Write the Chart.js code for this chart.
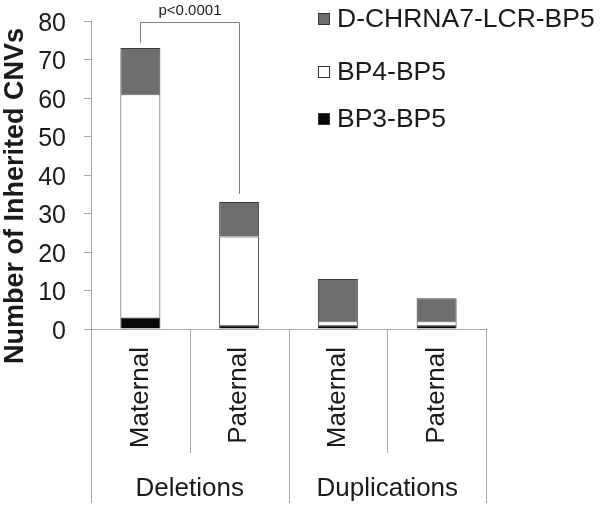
<!DOCTYPE html>
<html>
<head>
<meta charset="utf-8">
<script src="https://cdn.jsdelivr.net/npm/chart.js@4"></script>
<style>
html,body{margin:0;padding:0;background:#fff;}
#wrap{width:600px;height:509px;position:relative;}
</style>
</head>
<body>
<div id="wrap"><canvas id="c" width="600" height="509"></canvas></div>
<script>
const categories = ['Maternal', 'Paternal', 'Maternal', 'Paternal'];
const groups = ['Deletions', 'Duplications'];
const bp3bp5 = [3, 1, 1, 1];
const bp4bp5 = [58, 23, 1, 1];
const dchrna7 = [12, 9, 11, 6];
const yTicks = [0, 10, 20, 30, 40, 50, 60, 70, 80];
const pLabel = 'p<0.0001';
const yTitle = 'Number of Inherited CNVs';

const FONT = "'Liberation Sans', Arial, sans-serif";
const TXT = '#1a1a1a';
const AXIS = '#a8a8a8';

const overlay = {
  id: 'overlay',
  afterDraw(chart) {
    const ctx = chart.ctx;
    const x = chart.scales.x, y = chart.scales.y;
    const area = chart.chartArea;
    const half = (x.getPixelForValue(1) - x.getPixelForValue(0)) / 2;
    ctx.save();
    // y title
    ctx.save();
    ctx.translate(23, 196);
    ctx.rotate(-Math.PI / 2);
    ctx.fillStyle = TXT;
    ctx.font = 'bold 27px ' + FONT;
    ctx.textAlign = 'center';
    ctx.textBaseline = 'alphabetic';
    ctx.fillText(yTitle, 0, 0);
    ctx.restore();
    // category dividers below axis
    ctx.strokeStyle = AXIS;
    ctx.lineWidth = 1;
    const base = area.bottom;
    for (let i = 0; i <= categories.length; i++) {
      const px = Math.round((i < categories.length ? x.getPixelForValue(i) - half : x.getPixelForValue(i - 1) + half)) + 0.5;
      const long = (i % 2 === 0);
      ctx.beginPath();
      ctx.moveTo(px, base);
      ctx.lineTo(px, long ? 503 : 453);
      ctx.stroke();
    }
    // group labels
    ctx.fillStyle = TXT;
    ctx.font = '26px ' + FONT;
    ctx.textAlign = 'center';
    ctx.textBaseline = 'middle';
    groups.forEach((g, gi) => {
      const cx = (x.getPixelForValue(gi * 2) + x.getPixelForValue(gi * 2 + 1)) / 2;
      ctx.fillText(g, cx, 489);
    });
    // significance bracket
    const x1 = Math.round(x.getPixelForValue(0)) + 0.5;
    const x2 = Math.round(x.getPixelForValue(1)) + 0.5;
    const t1 = bp3bp5[0] + bp4bp5[0] + dchrna7[0];
    const t2 = bp3bp5[1] + bp4bp5[1] + dchrna7[1];
    const topY = Math.round(y.getPixelForValue(80)) + 1.5;
    ctx.strokeStyle = '#808080';
    ctx.beginPath();
    ctx.moveTo(x1, y.getPixelForValue(t1) - 5);
    ctx.lineTo(x1, topY);
    ctx.lineTo(x2, topY);
    ctx.lineTo(x2, y.getPixelForValue(t2) - 8);
    ctx.stroke();
    ctx.font = '15px ' + FONT;
    ctx.fillStyle = TXT;
    ctx.fillText(pLabel, (x1 + x2) / 2, 11);
    // legend
    const order = [2, 1, 0];
    const rows = [19, 72, 119];
    ctx.textAlign = 'left';
    ctx.font = '26.5px ' + FONT;
    order.forEach((di, r) => {
      const ds = chart.data.datasets[di];
      const cy = rows[r];
      ctx.fillStyle = ds.backgroundColor;
      ctx.fillRect(318, cy - 6, 12, 12);
      ctx.strokeStyle = '#333';
      ctx.lineWidth = 1;
      ctx.strokeRect(318.5, cy - 5.5, 11, 11);
      ctx.fillStyle = TXT;
      ctx.fillText(ds.label, 337, cy + 1);
    });
    ctx.restore();
  }
};

new Chart(document.getElementById('c'), {
  type: 'bar',
  data: {
    labels: categories,
    datasets: [
      { label: 'BP3-BP5', data: bp3bp5, backgroundColor: '#080808', borderColor: '#222', borderWidth: 1 },
      { label: 'BP4-BP5', data: bp4bp5, backgroundColor: '#ffffff', borderColor: '#333', borderWidth: 1 },
      { label: 'D-CHRNA7-LCR-BP5', data: dchrna7, backgroundColor: '#6e6e6e', borderColor: '#3a3a3a', borderWidth: 1 }
    ]
  },
  options: {
    responsive: false,
    animation: false,
    events: [],
    layout: { padding: { top: 21, right: 114, left: 0, bottom: 0 } },
    datasets: { bar: { categoryPercentage: 1, barPercentage: 0.405 } },
    plugins: { legend: { display: false }, tooltip: { enabled: false } },
    scales: {
      x: {
        stacked: true,
        afterFit(s) { s.height = 180; s.paddingLeft = 0; s.paddingRight = 0; s.paddingTop = 0; s.paddingBottom = 0; },
        grid: { display: true, drawOnChartArea: false, drawTicks: false, color: AXIS },
        border: { display: true, color: AXIS },
        ticks: { minRotation: 90, maxRotation: 90, padding: 18, color: TXT, font: { family: FONT, size: 26 } }
      },
      y: {
        stacked: true,
        min: 0, max: 80,
        afterFit(s) { s.width = 91; s.paddingTop = 0; s.paddingBottom = 0; s.paddingLeft = 0; s.paddingRight = 0; },
        afterBuildTicks(s) { s.ticks = yTicks.map(v => ({ value: v })); },
        grid: { display: true, drawOnChartArea: false, drawTicks: true, tickLength: 7, color: AXIS },
        border: { display: true, color: AXIS },
        ticks: {
          padding: 18, color: TXT,
          font: { family: FONT, size: 25, lineHeight: '6px' },
          callback: (v) => ['', String(v)]
        }
      }
    }
  },
  plugins: [overlay]
});
</script>
</body>
</html>
